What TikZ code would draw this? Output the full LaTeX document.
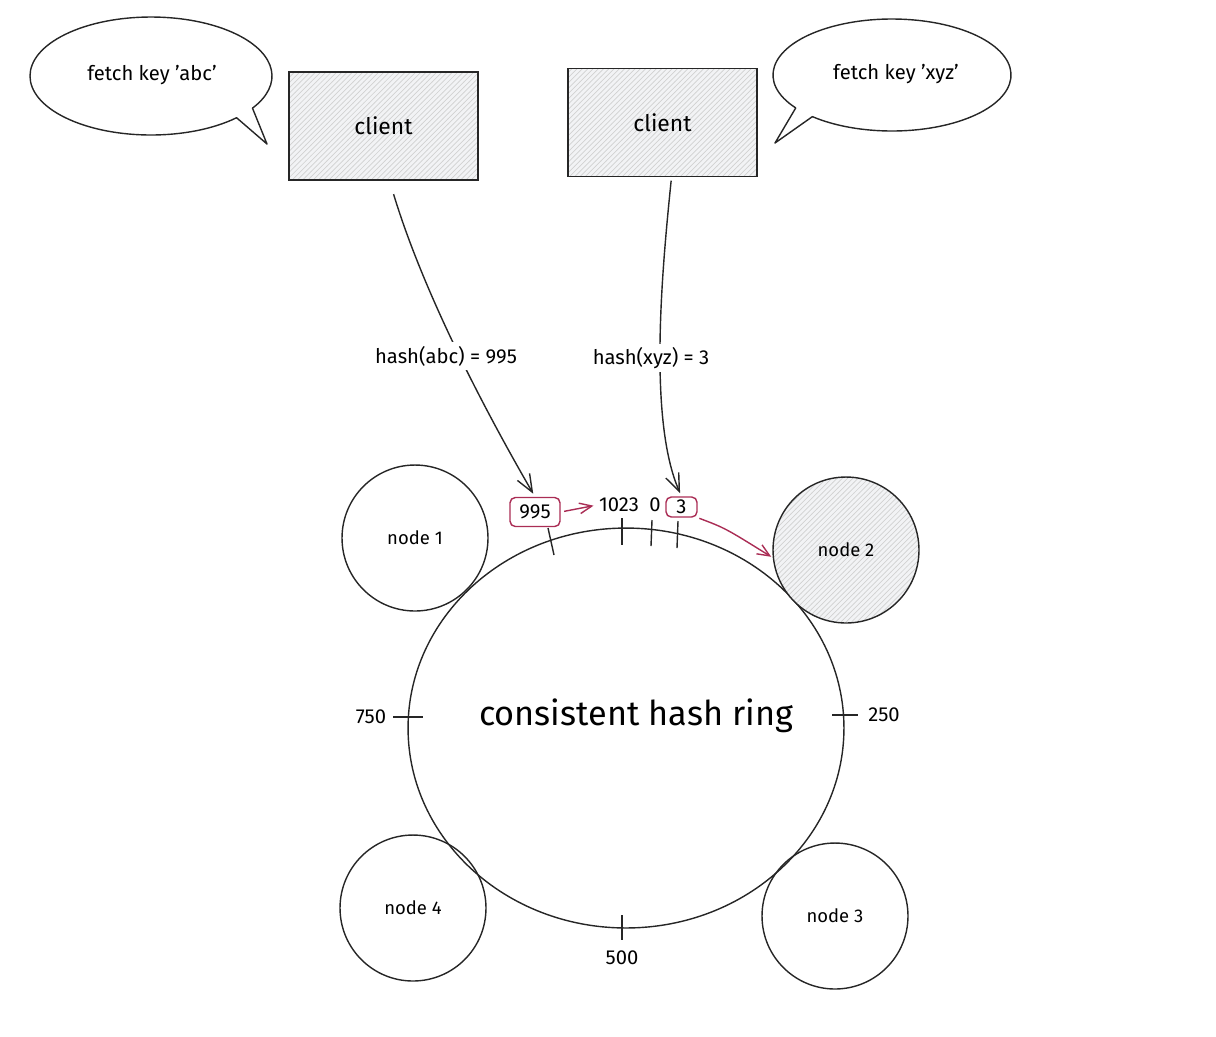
\documentclass[tikz,border=0pt]{standalone}
\usepackage{fontspec}
\setmainfont{Fira Sans}
\usetikzlibrary{arrows.meta,patterns,shapes.geometric,calc}

\definecolor{keyred}{RGB}{170,45,85}
\definecolor{hatchbg}{RGB}{242,243,245}

\tikzset{
  ink/.style={line width=0.8pt, draw=black!85},
  hatched/.style={preaction={fill=hatchbg}, pattern=north east lines, pattern color=black!18},
  clientbox/.style={ink, hatched, minimum width=3.78cm, minimum height=2.16cm, font=\fontsize{13}{15}\selectfont},
  server/.style={ink, circle, minimum size=2.92cm, inner sep=0pt, font=\fontsize{10.5}{12}\selectfont},
  bubble/.style={ink, line join=round},
  bubbletext/.style={font=\fontsize{11.5}{13}\selectfont},
  hashlabel/.style={fill=white, inner sep=2pt, font=\fontsize{11.5}{13}\selectfont},
  keybox/.style={draw=keyred, line width=0.8pt, rounded corners=3pt, inner sep=0pt, font=\fontsize{11.5}{13}\selectfont},
  ringpos/.style={inner sep=1pt, font=\fontsize{11.5}{13}\selectfont},
  tickmark/.style={line width=0.8pt, draw=black!85},
  hasharrow/.style={ink, -{Straight Barb[length=10pt, width=8pt]}},
  redarrow/.style={draw=keyred, line width=0.8pt, -{Straight Barb[length=7pt, width=6pt]}},
}

\begin{document}
\begin{tikzpicture}[x=0.02cm, y=-0.02cm]
  \useasboundingbox (0,0) rectangle (1216,1036);

  % the ring itself
  \node[ink, ellipse, minimum width=8.72cm, minimum height=8cm, inner sep=0pt] (ring) at (626,728) {};
  \node[font=\fontsize{19.5}{22}\selectfont] (ringlabel) at (636,716) {consistent hash ring};

  % servers placed around the ring
  \node[server] (n1) at (415,538) {node 1};
  \node[server, hatched] (n2) at (846,550) {node 2};
  \node[server] (n3) at (835,916) {node 3};
  \node[server] (n4) at (413,908) {node 4};

  % positions on the ring
  \draw[tickmark] (393,717) -- (423,717);
  \node[ringpos] (p750) at (371,717) {750};
  \draw[tickmark] (832,715) -- (858,715);
  \node[ringpos] (p250) at (884,715) {250};
  \draw[tickmark] (622,915) -- (622,940);
  \node[ringpos] (p500) at (622,958) {500};
  \draw[tickmark] (548,528) -- (554,555);
  \draw[tickmark] (622,518) -- (622,545);
  \draw[tickmark] (652,520) -- (651,546);
  \draw[tickmark] (678,521) -- (677,548);

  % clients
  \node[clientbox] (c1) at (383.5,126) {client};
  \node[clientbox] (c2) at (662.5,122.5) {client};

  % speech bubbles
  \coordinate (b1) at (151,76);
  \draw[bubble] ($(b1)+(33:121 and 59)$) -- (267,144) -- ($(b1)+(45:121 and 59)$)
    arc[start angle=45, end angle=393, x radius=121, y radius=59] -- cycle;
  \node[bubbletext] (t1) at (152,75) {fetch key 'abc'};

  \coordinate (b2) at (892,75);
  \draw[bubble] ($(b2)+(132:119 and 56)$) -- (775,143) -- ($(b2)+(144:119 and 56)$)
    arc[start angle=144, end angle=492, x radius=119, y radius=56] -- cycle;
  \node[bubbletext] (t2) at (896,74) {fetch key 'xyz'};

  % hashed keys and ring positions near the top
  \node[keybox, minimum width=1.0cm, minimum height=0.58cm] (k995) at (535,512) {995};
  \node[ringpos] (t1023) at (619,505) {1023};
  \node[ringpos] (t0) at (655,505) {0};
  \node[keybox, minimum width=0.62cm, minimum height=0.4cm] (k3) at (681.5,507) {3};

  % hashing arrows from the clients
  \draw[hasharrow, shorten <=8pt, shorten >=2pt] ($(c1.south)+(6,0)$) .. controls (422,288) and (479,400) .. (k995.north);
  \node[hashlabel] (h1) at (446,356) {hash(abc) = 995};
  \draw[hasharrow, shorten <=2pt, shorten >=2pt] ($(c2.south)+(9,0)$) .. controls (662,270) and (648,420) .. (k3.north);
  \node[hashlabel] (h2) at (651,358) {hash(xyz) = 3};

  % walking clockwise to the owning server
  \draw[redarrow, shorten <=2pt, shorten >=2pt] (k995.east) -- (t1023.west);
  \draw[redarrow, shorten <=1pt, shorten >=1pt] (k3.south east) .. controls (725,528) .. (n2.186);
\end{tikzpicture}
\end{document}
